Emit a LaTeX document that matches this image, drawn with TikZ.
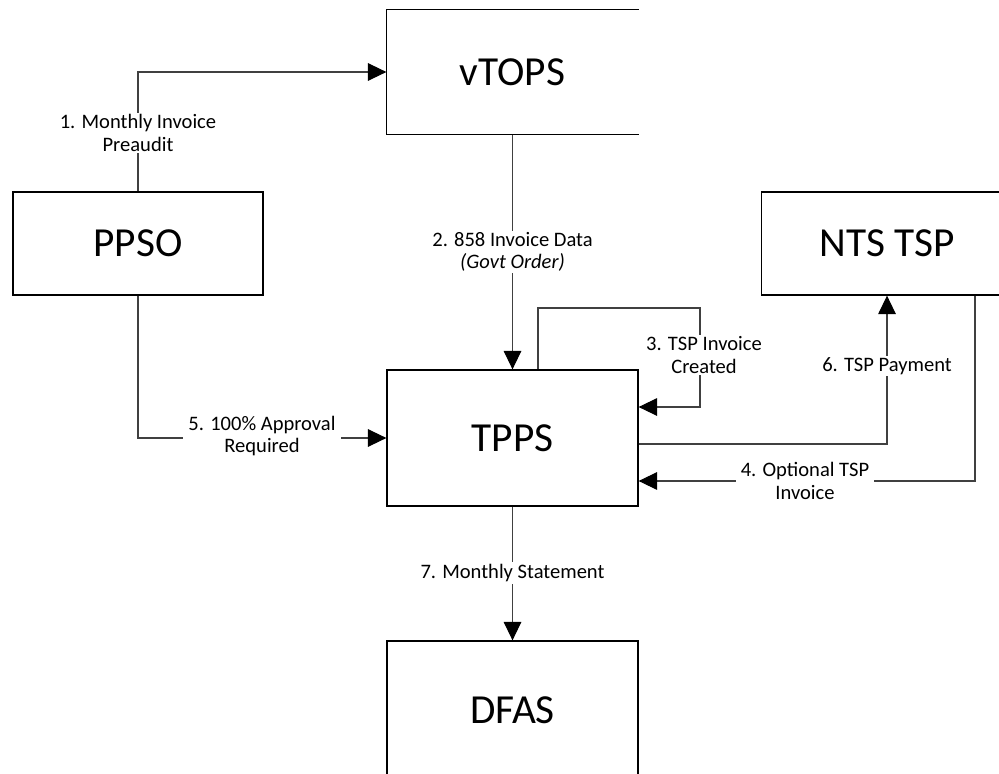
\documentclass[tikz,border=0pt]{standalone}
\usepackage{fontspec}
\setmainfont{Carlito}
\usetikzlibrary{arrows.meta}

\begin{document}
\begin{tikzpicture}
[x=0.02cm,y=-0.02cm,%
  every node/.style={inner sep=0pt},%
  sysbox/.style={draw,line width=0.75pt,minimum width=5.02cm,%
    font=\fontsize{23.5}{27}\selectfont},%
  boxline/.style={line width=0.75pt},%
  flow/.style={-{Triangle[length=10.5pt,width=10pt,color=black]},line width=0.6pt,draw=black!75},%
  lbl/.style={fill=white,align=center,inner xsep=3pt,inner ysep=1pt,%
    font=\fontsize{11.7}{12.8}\selectfont}]
\useasboundingbox (0,0) rectangle (999,773);
\node[sysbox,draw=none,minimum height=2.48cm] (vtops) at (512.5,72) {vTOPS};
\draw[boxline] (vtops.north east) -- (vtops.north west) -- (vtops.south west) -- (vtops.south east);
\node[sysbox,minimum width=5cm,minimum height=2.06cm] (ppso) at (138,243.5) {PPSO};
\node[sysbox,minimum height=2.06cm] (nts) at (887,243.5) {NTS TSP};
\node[sysbox,minimum height=2.72cm] (tpps) at (512.5,438) {TPPS};
\node[sysbox,minimum height=2.76cm] (dfas) at (512.5,710) {DFAS};
\coordinate (loop) at (700,308);
\draw[flow] (ppso.north) |- (vtops.west);
\draw[flow] (vtops.south) -- (tpps.north);
\draw[flow] ([xshift=0.51cm]tpps.north) |- (loop) |- ([yshift=0.62cm]tpps.east);
\draw[flow] ([xshift=1.76cm]nts.south) |- ([yshift=-0.86cm]tpps.east);
\draw[flow] ([yshift=-0.12cm]tpps.east) -| (nts.south);
\draw[flow] (ppso.south) |- (tpps.west);
\draw[flow] (tpps.south) -- (dfas.north);
\node[lbl] (l1) at (138,133) {1. Monthly Invoice\\Preaudit};
\node[lbl] (l2) at (512.5,252) {2. 858 Invoice Data\\\textit{(Govt Order)}};
\node[lbl] (l3) at (704,355) {3. TSP Invoice\\Created};
\node[lbl] (l4) at (805,481) {4. Optional TSP\\Invoice};
\node[lbl] (l5) at (262,436) {5. 100\% Approval\\Required};
\node[lbl] (l6) at (887,366) {6. TSP Payment};
\node[lbl] (l7) at (512.5,573) {7. Monthly Statement};
\end{tikzpicture}
\end{document}
